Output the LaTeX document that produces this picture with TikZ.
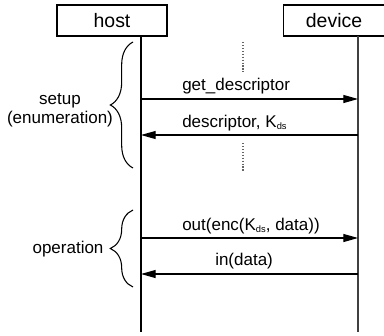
\documentclass[tikz,border=0pt]{standalone}
\usepackage{fontspec}
\setmainfont{Liberation Sans}
\usetikzlibrary{arrows.meta,decorations.pathreplacing,positioning}
\newcommand{\Kds}{K\raisebox{-2pt}{\fontsize{7}{7}\selectfont ds}}
\tikzset{
    actor/.style =  {rectangle,
                    fill=white,
                    draw=black,
                    text=black,
                    line width=0.9pt,
                    inner sep=0pt,
                    minimum height=23.25pt,
                    font=\fontsize{14.6}{17}\selectfont},
    lifeline/.style = {line width=1.1pt},
    msg/.style =    {line width=0.8pt,
                    -{Triangle[length=11pt,width=6pt]}},
    lbl/.style =    {text=black,
                    inner sep=0pt,
                    font=\fontsize{12.75}{14.25}\selectfont},
    gap/.style =    {black!60, dash pattern=on 0.9pt off 1.3pt, line width=0.9pt},
    phase/.style =  {decorate,
                    decoration={brace,amplitude=17pt},
                    line width=0.8pt}
}

\begin{document}
\begin{tikzpicture}[x=0.75pt,y=-0.75pt]
    \useasboundingbox (0,0) rectangle (384,335);
    \clip (0,0) rectangle (384,335);
    \node[actor, minimum width=82.5pt]  (host)   at (112,20.5)   {host};
    \node[actor, minimum width=76pt]    (device) at (334,20.5)   {device};
    % lifelines
    \coordinate (hTop) at (141,36);
    \coordinate (hEnd) at (141,332);
    \coordinate (dTop) at (358,36);
    \coordinate (dEnd) at (358,332);
    \draw[lifeline, black]      (hTop) -- (hEnd);
    \draw[lifeline, black!75]   (dTop) -- (dEnd);
    % message points
    \coordinate (h1) at (141,99);   \coordinate (d1) at (358,99);
    \coordinate (h2) at (141,135);  \coordinate (d2) at (358,135);
    \coordinate (h3) at (141,238);  \coordinate (d3) at (358,238);
    \coordinate (h4) at (141,274);  \coordinate (d4) at (358,274);
    \draw[msg] (h1) -- (d1);
    \draw[msg] (d2) -- (h2);
    \draw[msg] (h3) -- (d3);
    \draw[msg] (d4) -- (h4);
    \node[lbl, anchor=base west] (getDesc) at (182,90)  {get\_descriptor};
    \node[lbl, anchor=base west] (desc)    at (182,127) {descriptor, \Kds};
    \node[lbl, anchor=base west] (outEnc)  at (182,230) {out(enc(\Kds, data))};
    \node[lbl, anchor=base west] (inData)  at (215,265) {in(data)};
    % skipped steps
    \coordinate (g1) at (243,42);   \coordinate (g2) at (243,72);
    \coordinate (g3) at (243,143);  \coordinate (g4) at (243,172);
    \draw[gap] (g1) -- (g2);
    \draw[gap] (g3) -- (g4);
    % phases
    \coordinate (s1) at (133,168);  \coordinate (s2) at (133,42);
    \coordinate (o1) at (133,287);  \coordinate (o2) at (133,210);
    \draw[phase] (s1) -- (s2);
    \draw[phase] (o1) -- (o2);
    \node[lbl, align=center] (setup) at (60,110) {setup\\(enumeration)};
    \node[lbl, anchor=base] (oper) at (68,253) {operation};
\end{tikzpicture}
\end{document}
